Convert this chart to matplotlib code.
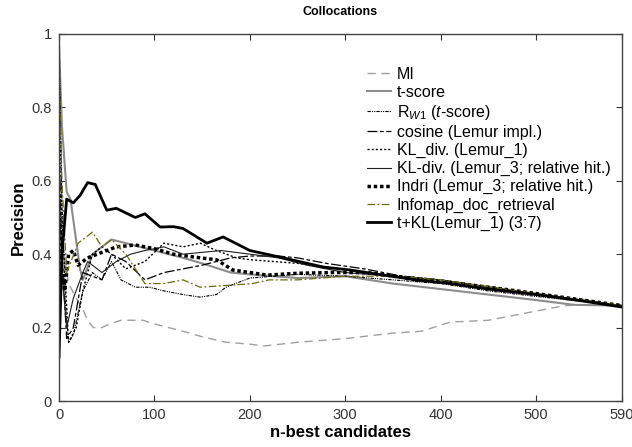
import matplotlib.pyplot as plt

plt.rcParams['font.family'] = ['Liberation Sans', 'DejaVu Sans']
plt.rcParams['mathtext.fontset'] = 'custom'
plt.rcParams['mathtext.rm'] = 'Liberation Sans'
plt.rcParams['mathtext.it'] = 'Liberation Sans:italic'

# n-best positions and precision values
mi_x = [0, 5, 10, 18, 25, 30, 36, 45, 53, 65, 75, 88, 100, 115, 130, 150, 175, 200, 215, 250, 300, 350, 380, 410, 450, 500, 530, 560, 590]
mi_y = [0.50, 0.40, 0.32, 0.28, 0.25, 0.22, 0.20, 0.20, 0.21, 0.22, 0.22, 0.22, 0.21, 0.20, 0.19, 0.175, 0.16, 0.155, 0.15, 0.16, 0.17, 0.185, 0.19, 0.215, 0.22, 0.245, 0.26, 0.262, 0.26]

ts_x = [0, 3, 8, 12, 22, 25, 35, 45, 55, 70, 85, 100, 130, 150, 180, 200, 250, 300, 350, 400, 450, 500, 540, 590]
ts_y = [0.97, 0.75, 0.57, 0.55, 0.36, 0.33, 0.40, 0.42, 0.44, 0.43, 0.42, 0.41, 0.39, 0.375, 0.35, 0.345, 0.335, 0.34, 0.32, 0.305, 0.29, 0.275, 0.262, 0.26]

rw_x = [0, 3, 7, 10, 15, 25, 35, 45, 55, 65, 80, 95, 110, 130, 148, 165, 175, 200, 250, 300, 350, 400, 450, 500, 590]
rw_y = [1.0, 0.55, 0.25, 0.16, 0.18, 0.30, 0.35, 0.33, 0.38, 0.33, 0.31, 0.31, 0.30, 0.29, 0.283, 0.29, 0.31, 0.335, 0.345, 0.34, 0.33, 0.32, 0.30, 0.285, 0.26]

cos_x = [0, 3, 8, 15, 25, 35, 45, 55, 70, 90, 110, 130, 150, 180, 200, 230, 250, 280, 320, 360, 400, 450, 500, 590]
cos_y = [0.70, 0.40, 0.17, 0.20, 0.35, 0.34, 0.33, 0.40, 0.38, 0.33, 0.35, 0.36, 0.37, 0.39, 0.395, 0.395, 0.39, 0.375, 0.36, 0.34, 0.33, 0.31, 0.29, 0.26]

kl1_x = [0, 3, 10, 18, 25, 35, 45, 55, 70, 90, 110, 130, 148, 165, 186, 200, 250, 280, 320, 360, 400, 450, 500, 590]
kl1_y = [0.90, 0.50, 0.16, 0.20, 0.30, 0.40, 0.42, 0.40, 0.36, 0.38, 0.43, 0.42, 0.43, 0.41, 0.39, 0.385, 0.375, 0.365, 0.35, 0.34, 0.33, 0.31, 0.29, 0.26]

kl3_x = [0, 3, 8, 15, 25, 30, 45, 60, 75, 90, 110, 130, 170, 200, 230, 260, 300, 350, 400, 480, 590]
kl3_y = [0.60, 0.35, 0.20, 0.28, 0.35, 0.38, 0.35, 0.38, 0.40, 0.41, 0.42, 0.40, 0.41, 0.40, 0.39, 0.37, 0.35, 0.34, 0.33, 0.30, 0.26]

ind_x = [0, 3, 6, 10, 15, 20, 30, 40, 60, 80, 100, 120, 148, 165, 182, 200, 218, 250, 287, 323, 357, 375, 420, 480, 590]
ind_y = [0.55, 0.35, 0.30, 0.40, 0.41, 0.37, 0.39, 0.40, 0.42, 0.425, 0.415, 0.40, 0.39, 0.385, 0.357, 0.35, 0.343, 0.348, 0.35, 0.35, 0.338, 0.33, 0.32, 0.30, 0.26]

inf_x = [0, 3, 8, 20, 35, 45, 55, 70, 80, 90, 110, 130, 148, 182, 203, 220, 250, 300, 350, 400, 480, 590]
inf_y = [0.90, 0.60, 0.35, 0.43, 0.46, 0.42, 0.44, 0.40, 0.36, 0.32, 0.32, 0.33, 0.31, 0.316, 0.32, 0.33, 0.33, 0.34, 0.34, 0.33, 0.30, 0.26]

tkl_x = [0, 3, 8, 15, 22, 30, 38, 50, 60, 80, 90, 106, 120, 130, 155, 172, 200, 235, 277, 305, 340, 375, 410, 450, 500, 550, 590]
tkl_y = [0.12, 0.40, 0.55, 0.54, 0.56, 0.595, 0.59, 0.52, 0.525, 0.50, 0.51, 0.474, 0.475, 0.47, 0.43, 0.447, 0.41, 0.39, 0.365, 0.357, 0.343, 0.33, 0.32, 0.305, 0.29, 0.272, 0.256]

xticks = [0, 100, 200, 300, 400, 500, 590]
yticks = [0, 0.2, 0.4, 0.6, 0.8, 1]


def main() -> None:
    fig = plt.figure(figsize=(6.32, 4.47), dpi=100)
    ax = fig.add_axes([0.0934, 0.1029, 0.8906, 0.8211])

    ax.plot(mi_x, mi_y, color="#a0a0a0", lw=1.0, dashes=(6, 4), label="MI")
    ax.plot(ts_x, ts_y, color="#8c8c8c", lw=1.5, label="t-score")
    ax.plot(rw_x, rw_y, color="black", lw=0.8, dashes=(3, 1, 1, 1, 1, 1),
            label=r"R$_{\mathit{W1}}$ ($\mathit{t}$-score)")
    ax.plot(cos_x, cos_y, color="black", lw=0.9, dashes=(8, 2, 3, 2), label="cosine (Lemur impl.)")
    ax.plot(kl1_x, kl1_y, color="black", lw=1.0, dashes=(1.5, 1.5), label="KL_div. (Lemur_1)")
    ax.plot(kl3_x, kl3_y, color="#202020", lw=0.8, label="KL-div. (Lemur_3; relative hit.)")
    ax.plot(ind_x, ind_y, color="black", lw=2.5, dashes=(1, 0.8), label="Indri (Lemur_3; relative hit.)")
    ax.plot(inf_x, inf_y, color="#6b6b10", lw=0.9, dashes=(6, 2, 1.5, 2), label="Infomap_doc_retrieval")
    ax.plot(tkl_x, tkl_y, color="black", lw=2.0, label="t+KL(Lemur_1) (3:7)")

    ax.set_xlim(0, 590)
    ax.set_ylim(0, 1)
    ax.set_xticks(xticks)
    ax.set_xticklabels([str(t) for t in xticks])
    ax.set_yticks(yticks)
    ax.set_yticklabels(["0", "0.2", "0.4", "0.6", "0.8", "1"])
    ax.tick_params(direction="in", top=True, right=True, length=4, labelsize=10.5,
                   colors="#333333", pad=5)
    for s in ax.spines.values():
        s.set_color("#444444")
        s.set_linewidth(1.0)

    ax.set_title("Collocations", fontsize=9, fontweight="bold", pad=14)
    ax.set_xlabel("n-best candidates", fontsize=12, fontweight="bold", labelpad=2)
    ax.set_ylabel("Precision", fontsize=12, fontweight="bold", labelpad=4)

    ax.legend(loc="upper right", bbox_to_anchor=(1.0, 0.941), frameon=False, fontsize=11.5,
              handlelength=1.5, handletextpad=0.37, labelspacing=0.19, borderaxespad=0.3)

    fig.savefig("out.png", dpi=100)


if __name__ == "__main__":
    main()
